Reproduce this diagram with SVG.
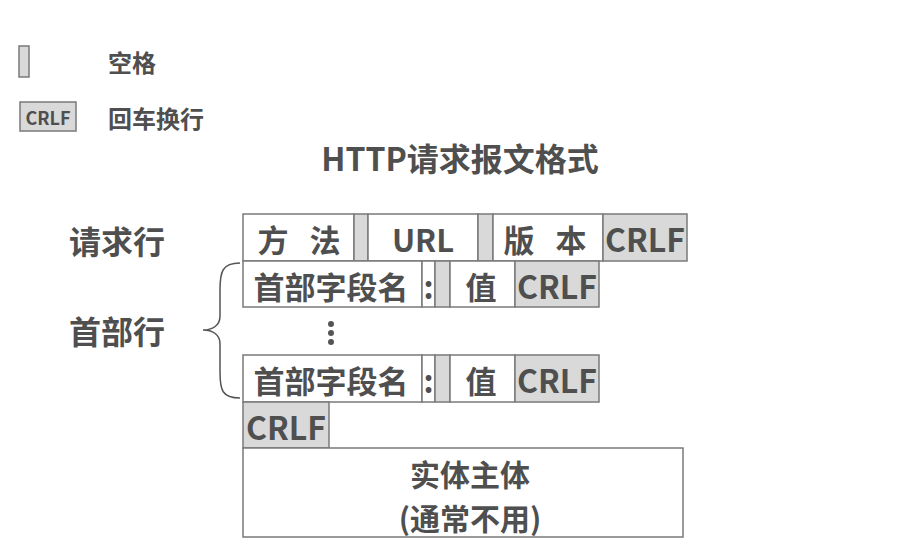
<svg xmlns="http://www.w3.org/2000/svg" width="913" height="553" viewBox="0 0 913 553">
<style>
text{font-family:"Noto Sans CJK SC","Noto Sans",sans-serif;font-weight:bold;fill:#4f4f4f;text-anchor:middle;dominant-baseline:central}
.w{fill:#fff;stroke:#7a7a7a;stroke-width:1.5}
.g{fill:#d9d9d9;stroke:#7a7a7a;stroke-width:1.5}
.c{font-size:31px}
.s{word-spacing:14px}
.l{font-size:24px;text-anchor:start}
</style>
<rect width="913" height="553" fill="#fff"/>
<g id="legend">
<rect class="g" x="19" y="46" width="10" height="31"/>
<text class="l" x="108" y="61">空格</text>
<rect class="g" x="20" y="102" width="56" height="29"/>
<text x="48" y="117" style="font-size:18px">CRLF</text>
<text class="l" x="108" y="117">回车换行</text>
</g>
<text id="title" x="460" y="157" style="font-size:32px">HTTP请求报文格式</text>
<text id="label-request" x="117" y="240" style="font-size:32px">请求行</text>
<text id="label-header" x="117" y="330" style="font-size:32px">首部行</text>
<g id="request-line">
<rect class="w" x="243" y="214" width="111" height="47"/>
<text class="c s" x="299" y="238">方 法</text>
<rect class="g" x="354" y="214" width="14" height="47"/>
<rect class="w" x="368" y="214" width="110" height="47"/>
<text class="c" x="423" y="238">URL</text>
<rect class="g" x="478" y="214" width="15" height="47"/>
<rect class="w" x="493" y="214" width="110" height="47"/>
<text class="c s" x="545" y="238">版 本</text>
<rect class="g" x="603" y="214" width="84" height="47"/>
<text class="c" x="645" y="238" style="font-size:32px">CRLF</text>
</g>
<g id="header-1">
<rect class="w" x="243" y="261" width="179" height="46"/>
<text class="c" x="331" y="285">首部字段名</text>
<rect class="w" x="422" y="261" width="13" height="46"/>
<text class="c" x="428.5" y="285">:</text>
<rect class="g" x="435" y="261" width="15" height="46"/>
<rect class="w" x="450" y="261" width="65" height="46"/>
<text class="c" x="481" y="285">值</text>
<rect class="g" x="515" y="261" width="84" height="46"/>
<text class="c" x="557" y="285" style="font-size:32px">CRLF</text>
</g>
<g id="ellipsis" fill="#555">
<circle cx="331" cy="324" r="3"/>
<circle cx="331" cy="333" r="3"/>
<circle cx="331" cy="342" r="3"/>
</g>
<g id="header-2">
<rect class="w" x="243" y="355" width="179" height="47"/>
<text class="c" x="331" y="379">首部字段名</text>
<rect class="w" x="422" y="355" width="13" height="47"/>
<text class="c" x="428.5" y="379">:</text>
<rect class="g" x="435" y="355" width="15" height="47"/>
<rect class="w" x="450" y="355" width="65" height="47"/>
<text class="c" x="481" y="379">值</text>
<rect class="g" x="515" y="355" width="84" height="47"/>
<text class="c" x="557" y="379" style="font-size:32px">CRLF</text>
</g>
<g id="crlf-end">
<rect class="g" x="243" y="402" width="86" height="46"/>
<text class="c" x="286" y="426" style="font-size:32px">CRLF</text>
</g>
<g id="body">
<rect class="w" x="243" y="448" width="440" height="89"/>
<text x="470" y="473" style="font-size:30px">实体主体</text>
<text x="470" y="517" style="font-size:30px">(通常不用)</text>
</g>
<g id="connectors">
<path d="M240,263 C222,263 220,272 220,290 L220,316 C220,326 212,330 203,330 C212,330 220,334 220,344 L220,372 C220,390 222,398 240,398" fill="none" stroke="#555" stroke-width="1.5"/>
</g>
</svg>
